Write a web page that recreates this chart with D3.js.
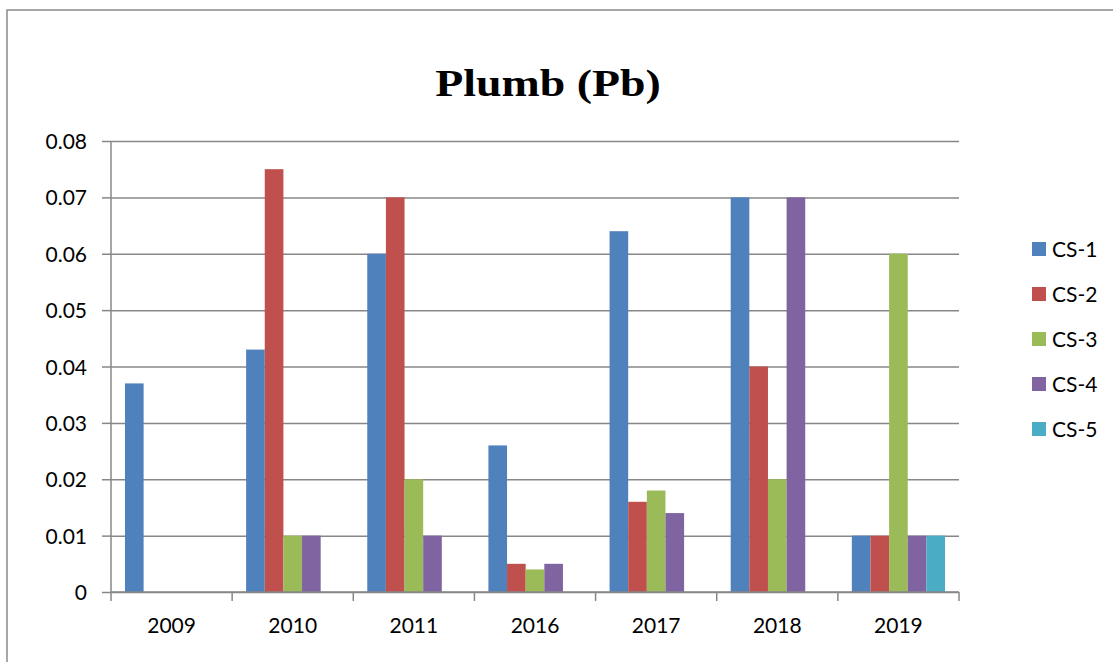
<!DOCTYPE html>
<html>
<head>
<meta charset="utf-8">
<script src="https://cdn.jsdelivr.net/npm/d3@7"></script>
<style>
  body { margin: 0; background: #fff; }
  svg { display: block; }
</style>
</head>
<body>
<svg id="chart" width="1113" height="662"></svg>
<script>
// data (null = no bar)
const years = ["2009", "2010", "2011", "2016", "2017", "2018", "2019"];
const seriesNames = ["CS-1", "CS-2", "CS-3", "CS-4", "CS-5"];
const cs1 = [0.037, 0.043, 0.06, 0.026, 0.064, 0.07, 0.01];
const cs2 = [null, 0.075, 0.07, 0.005, 0.016, 0.04, 0.01];
const cs3 = [null, 0.01, 0.02, 0.004, 0.018, 0.02, 0.06];
const cs4 = [null, 0.01, 0.01, 0.005, 0.014, 0.07, 0.01];
const cs5 = [null, null, null, null, null, null, 0.01];
const yTicks = [0, 0.01, 0.02, 0.03, 0.04, 0.05, 0.06, 0.07, 0.08];
const colors = ["#4F81BD", "#C0504D", "#9BBB59", "#8064A2", "#4BACC6"];

const values = [cs1, cs2, cs3, cs4, cs5];
const rows = [];
years.forEach((yr, i) => {
    values.forEach((s, j) => {
        if (s[i] != null) rows.push({year: yr, series: seriesNames[j], value: s[i]});
    });
});

const svg = d3.select("#chart");
const margin = ({top: 141, right: 154, bottom: 70, left: 111});
const width = +svg.attr("width");
const height = +svg.attr("height");
const gridColor = "#878787";
const font = "Lato, 'Open Sans', sans-serif";

// outer frame
svg.append("path")
    .attr("d", `M7,${height + 5}V10H${width + 5}`)
    .attr("fill", "none")
    .attr("stroke", "#8a8a8a")
    .attr("stroke-width", 1.5);

const x = d3.scaleBand()
    .domain(years)
    .range([margin.left, width - margin.right]);

const xInner = d3.scaleBand()
    .domain(seriesNames)
    .range([0, x.bandwidth()])
    .paddingOuter(0.75);

const y = d3.scaleLinear()
    .domain([0, 0.08])
    .range([height - margin.bottom, margin.top]);

const color = d3.scaleOrdinal().domain(seriesNames).range(colors);

// gridlines + y axis
const yAxis = g => g
    .attr("transform", `translate(${margin.left},0)`)
    .call(d3.axisLeft(y).tickValues(yTicks).tickFormat(d => d === 0 ? "0" : d3.format(".2f")(d))
        .tickSize(9).tickPadding(15))
    .call(g => g.select(".domain").remove())
    .call(g => g.selectAll(".tick line").attr("stroke", gridColor).attr("stroke-width", 1.5))
    .call(g => g.selectAll(".tick").append("line")
        .attr("x2", width - margin.right - margin.left)
        .attr("stroke", gridColor)
        .attr("stroke-width", 1.5))
    .call(g => g.selectAll(".tick text")
        .attr("font-family", font).attr("font-size", 21).attr("fill", "#000").attr("dy", "0.36em"));

svg.append("g").call(yAxis);

// bars
svg.append("g")
    .selectAll("rect")
    .data(rows)
    .join("rect")
        .attr("x", d => x(d.year) + xInner(d.series))
        .attr("y", d => y(d.value))
        .attr("width", xInner.bandwidth())
        .attr("height", d => y(0) - y(d.value))
        .attr("fill", d => color(d.series));

// x axis with ticks at band edges
const edges = years.map(d => x(d)).concat([x.range()[1]]);
const xg = svg.append("g");
xg.append("line")
    .attr("x1", margin.left).attr("x2", width - margin.right)
    .attr("y1", y(0)).attr("y2", y(0))
    .attr("stroke", gridColor).attr("stroke-width", 1.5);
xg.selectAll(".edge")
    .data(edges)
    .join("line")
        .attr("class", "edge")
        .attr("x1", d => d).attr("x2", d => d)
        .attr("y1", y(0)).attr("y2", y(0) + 9)
        .attr("stroke", gridColor).attr("stroke-width", 1.5);
xg.selectAll("text")
    .data(years)
    .join("text")
        .attr("x", d => x(d) + x.bandwidth() / 2)
        .attr("y", y(0) + 41)
        .attr("text-anchor", "middle")
        .attr("font-family", font)
        .attr("font-size", 21)
        .text(d => d);

// y axis line
svg.append("line")
    .attr("x1", margin.left).attr("x2", margin.left)
    .attr("y1", y(0.08)).attr("y2", y(0))
    .attr("stroke", gridColor).attr("stroke-width", 1.5);

// title (horizontally stretched like the source)
svg.append("text")
    .attr("transform", "translate(548,96) scale(1.24,1)")
    .attr("text-anchor", "middle")
    .attr("font-family", "'Liberation Serif', 'Times New Roman', serif")
    .attr("font-weight", "bold")
    .attr("font-size", 37)
    .text("Plumb (Pb)");

// legend
const legend = svg.append("g")
    .selectAll("g")
    .data(seriesNames)
    .join("g")
        .attr("transform", (d, i) => `translate(1032,${242 + i * 45})`);

legend.append("rect")
    .attr("width", 14)
    .attr("height", 14)
    .attr("fill", d => color(d));

legend.append("text")
    .attr("x", 20)
    .attr("y", 7)
    .attr("dy", "0.36em")
    .attr("font-family", font)
    .attr("font-size", 21)
    .text(d => d);
</script>
</body>
</html>
